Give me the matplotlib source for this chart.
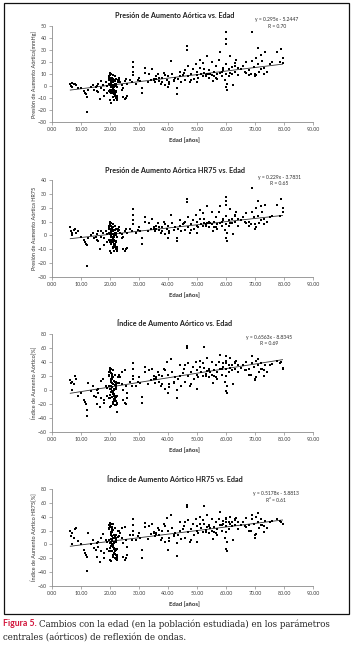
import matplotlib
matplotlib.use("Agg")
import matplotlib.pyplot as plt
from matplotlib.patches import Rectangle

plt.rcParams['font.family'] = ['Lato', 'DejaVu Sans']

# ---------------- data (shared subjects: age and four measurements) ----------------
edad = [
    6.3, 6.5, 6.8, 7.0, 7.5, 8.0, 8.3, 9.0,
    10.0, 11.2, 11.5, 11.8, 12.0, 12.2, 12.5, 13.5,
    14.0, 14.5, 15.0, 15.5, 15.5, 16.0, 16.0, 16.5, 17.0, 17.0, 17.5, 18.0, 18.0, 18.5, 19.0, 19.0,
    19.7, 20.3, 20.9, 21.5, 22.1, 22.6, 21.0,
    20.0, 20.6, 21.2, 21.8, 22.4, 19.9, 20.8,
    19.8, 20.4, 21.0, 21.6, 22.2, 20.2, 21.4,
    20.1, 20.7, 21.3, 21.9, 22.5, 20.5, 21.7,
    19.9, 20.5, 21.1, 21.7, 22.3, 20.9, 21.5,
    20.2, 20.8, 21.4, 22.0, 22.6, 20.0, 21.2,
    19.6, 20.2, 20.8, 21.4, 22.0, 21.8, 20.6,
    20.4, 21.0, 21.6, 22.2, 20.1, 20.7, 21.3,
    20.3, 20.9, 21.5, 22.1, 19.8, 21.1, 21.9,
    20.6, 21.2, 21.8, 19.7, 20.4, 21.0, 22.4,
    20.0, 20.8, 21.6, 22.2, 19.9, 21.4, 20.5,
    22.3,
    23.0, 23.0, 23.5, 24.0, 24.0, 24.5, 24.5, 25.0, 25.0, 25.5, 25.5, 26.0, 26.0, 27.0, 27.5,
    28.0, 28.0, 28.0, 28.0, 29.0, 29.5, 30.0, 30.5, 31.0, 31.0, 32.0, 32.0, 33.0, 33.5, 34.0, 34.5, 35.0,
    35.5, 36.0, 36.5, 37.0, 37.5, 38.0, 38.5, 39.0, 39.5, 40.0, 40.0, 40.5, 41.0, 41.5, 42.0,
    42.5, 43.0, 43.0, 43.5, 44.0, 44.5, 45.0, 35.0, 36.0, 37.0, 38.0, 39.0, 40.5, 42.0, 44.0,
    45.5, 46.0, 46.0, 46.5, 46.5, 47.0, 47.0, 47.5, 48.0, 48.5, 49.0, 49.5, 50.0, 50.0, 50.5,
    51.0, 51.0, 51.5, 52.0, 52.0, 52.5, 53.0, 53.5, 53.5, 54.0, 54.0, 54.5, 55.0, 55.0, 55.5,
    48.0, 50.0, 52.5, 53.0, 54.0,
    56.0, 56.0, 56.5, 57.0, 57.0, 57.5, 58.0, 58.0, 58.5, 59.0, 59.0, 59.5, 60.0, 60.0, 60.0,
    60.0, 60.0, 60.0, 60.5, 60.5, 61.0, 61.0, 61.5, 62.0, 62.0, 62.5, 63.0, 63.0, 63.5, 64.0,
    64.0, 56.5, 58.5, 61.5, 63.0,
    65.0, 66.0, 67.0, 67.0, 68.0, 68.0, 69.0, 69.0, 69.5, 70.0, 70.0, 70.5, 71.0, 71.0, 71.5,
    72.0, 72.5, 73.0, 73.0, 73.5, 74.0, 76.0, 77.5, 78.5, 79.0, 79.5, 79.5, 66.5, 68.5, 70.5,
    72.0, 75.0,
]

presion_aumento = [
    2, 0, -1, 2.5, 2, 2, 1, -2,
    -2, -4, -6, -7, -22, -9, -3, -1,
    1, -3, -1, 0, -4, -5, 2, -11, -2, 4, 1, -3, -8, 3, 0, -6,
    8, 3, -2, -6, 0, 5, -9,
    10, 6, 1, -4, -8, -12, 3,
    7, 2, -3, -7, -10, 4, -1,
    11, 5, 0, -5, -9, -14, 2,
    9, 4, -1, -6, -11, 6, -3,
    7, 1, -4, -8, 3, 9, -2,
    5, 0, -5, -7, 2, 8, -3,
    6, -2, 4, 1, -5, 7, -7,
    -1, 3, 5, -4, 2, -6, 0,
    1, -9, 4, -4, -6, 9, -1,
    -3, 5, -8, 6, 1, -12, 10,
    -12,
    5, 7, 3, 1, -3, -2, -9, 4, -11, 6, -10, 2, -8, 5, 3,
    20, 16, 12, 9, 2, 5, 7, 4, -6, -2, 15, 11, 3, 10, 5, 14, 6,
    3, 8, 10, 4, 2, 7, 11, 1, 5, 8, -1, 3, 21, 10, 4,
    7, -7, -2, 6, 12, 3, 9, 5, 6, 7, 3, 9, 2, 5, 8,
    11, 5, 13, 33, 30, 8, 17, 3, 10, 14, 6, 18, 9, 12, 7,
    22, 15, 10, 8, 19, 11, 9, 25, 10, 7, 13, 10, 20, 9, 4,
    5, 3, 14, 8, 10,
    12, 8, 17, 10, 6, 22, 11, 28, 8, 13, 15, 5, 45, 39, 35,
    18, 10, -1, -3, 2, 14, 8, 25, 16, 10, 1, 12, 19, 22, 9,
    15, 7, 12, 11, 17,
    14, 17, 11, 20, 13, 9, 45, 21, 16, 10, 8, 23, 32, 18, 12,
    26, 21, 15, 10, 28, 12, 20, 28, 20, 31, 23, 19, 12, 10, 9,
    14, 18,
]

presion_aumento_hr75 = [
    6, 3, 0, 2, 4, 5, 2, 3,
    -1, -3, -5, -6, -22, -7, -2, 0,
    2, -2, -1, 1, -3, -4, 3, -10, -1, 3, 2, -2, -7, 3, 1, -5,
    7, 3, -2, -6, 0, 5, -9,
    9, 5, 1, -4, -8, -11, 3,
    6, 2, -3, -7, -10, 4, -1,
    10, 4, 0, -5, -9, -13, 2,
    8, 4, -1, -6, -10, 6, -3,
    7, 1, -4, -8, 3, 8, -2,
    5, 0, -5, -7, 2, 7, -3,
    5, -2, 4, 1, -5, 6, -6,
    -1, 3, 4, -4, 2, -5, 0,
    1, -8, 4, -3, -6, 8, -1,
    -3, 4, -8, 5, 1, -11, 9,
    -11,
    4, 6, 2, 1, -2, -1, -10, 3, -11, 5, -10, 2, -9, 5, 3,
    19, 15, 11, 8, 2, 4, 6, 3, -6, -2, 13, 10, 3, 9, 5, 12, 6,
    3, 7, 9, 4, 2, 6, 10, 1, 5, 7, -2, 3, 15, 9, 4,
    6, -4, -2, 5, 11, 3, 8, 5, 5, 6, 3, 8, 2, 4, 7,
    9, 4, 10, 26, 24, 6, 13, 2, 8, 11, 5, 15, 7, 10, 6,
    18, 12, 8, 7, 16, 9, 8, 21, 9, 6, 10, 9, 17, 8, 3,
    4, 2, 12, 7, 9,
    10, 6, 13, 8, 5, 17, 9, 21, 7, 11, 12, 4, 28, 25, 22,
    14, 8, -2, -4, 2, 11, 7, 19, 12, 9, 1, 10, 15, 17, 7,
    12, 6, 10, 9, 14,
    11, 13, 9, 16, 10, 7, 34, 17, 13, 8, 5, 20, 25, 14, 9,
    21, 17, 12, 8, 22, 10, 14, 22, 14, 26, 20, 17, 10, 8, 6,
    11, 13,
]

indice_aumento = [
    14, 10, 0, 12, 8, 20, 15, -8,
    -4, -14, -17, -20, -37, -28, 10, -2,
    5, -8, -10, 0, -20, -5, 2, -25, 13, -12, 15, -15, -18, 5, 3, -8,
    25, 12, -3, -15, 5, 18, -20,
    31, 20, 8, -8, -18, -24, 10,
    22, 6, -5, -14, -22, 15, 0,
    28, 16, 2, -10, -19, -23, 7,
    26, 13, -2, -12, -20, 19, -6,
    24, 4, -8, -16, 10, 27, -4,
    20, 2, -10, -13, 8, 22, -1,
    14, -6, 11, 3, -11, 17, -16,
    -3, 9, 13, -9, 6, -17, 1,
    4, -18, 21, -12, 16, 29, -8,
    -7, 23, -21, 12, 1, -15, 30,
    -31,
    10, 22, 18, 25, 8, 0, -14, 28, -19, 5, -20, -5, -12, 12, 5,
    38, 30, 20, 15, 5, 12, 18, 10, -18, -10, 33, 25, 8, 28, 14, 30, 15,
    10, 18, 25, 12, 5, 20, 30, 2, 40, 22, -5, 8, 44, 25, 10,
    18, -12, 0, 15, 35, 6, 24, 20, 16, 22, 8, 28, 4, 12, 20,
    30, 12, 35, 63, 60, 20, 38, 5, 25, 33, 15, 40, 22, 28, 18,
    42, 33, 25, 20, 38, 61, 23, 45, 27, 18, 30, 25, 40, 22, 10,
    8, 2, 32, 20, 28,
    28, 20, 35, 25, 15, 40, 30, 50, 22, 33, 38, 12, 48, 42, 38,
    30, 20, -2, -5, 5, 35, 25, 45, 36, 28, 8, 30, 40, 42, 25,
    35, 18, 30, 32, 38,
    32, 36, 28, 40, 30, 22, 49, 38, 33, 16, 14, 42, 44, 35, 26,
    38, 30, 28, 20, 36, 26, 37, 42, 38, 40, 32, 30, 28, 22, 18,
    30, 35,
]

indice_aumento_hr75 = [
    20, 12, 0, 16, 9, 22, 23, 5,
    0, -8, -12, -15, -38, -18, 16, 1,
    6, -5, -8, 2, -18, -3, 4, -26, 10, -10, 15, -12, -20, 6, 4, -6,
    28, 15, 0, -12, 6, 20, -18,
    31, 22, 10, -6, -15, -22, 12,
    24, 8, -3, -14, -21, 17, 2,
    30, 18, 4, -8, -17, -24, 9,
    27, 14, 0, -10, -19, 21, -5,
    25, 6, -6, -15, 11, 26, -2,
    22, 3, -9, -12, 9, 24, 1,
    16, -4, 12, 5, -10, 19, -14,
    -2, 10, 14, -7, 7, -16, 3,
    5, -15, 23, -10, 18, 30, -6,
    -5, 25, -20, 14, 2, -13, 29,
    -23,
    12, 20, 17, 24, 10, 2, -18, 25, -22, 6, -20, -3, -15, 14, 6,
    37, 28, 20, 14, 6, 12, 17, 9, -19, -8, 31, 25, 8, 27, 15, 30, 16,
    12, 17, 24, 14, 6, 19, 29, 4, 38, 20, -8, 10, 43, 24, 12,
    17, -17, 2, 14, 33, 8, 22, 18, 15, 21, 9, 26, 5, 13, 19,
    27, 10, 32, 57, 54, 18, 35, 4, 22, 30, 13, 37, 20, 26, 16,
    40, 30, 23, 18, 35, 56, 21, 42, 25, 16, 28, 23, 36, 20, 8,
    6, 4, 30, 18, 26,
    25, 18, 32, 22, 14, 37, 28, 47, 20, 30, 34, 10, 38, 36, 33,
    27, 18, -6, -10, 4, 32, 22, 40, 33, 26, 7, 28, 36, 38, 22,
    32, 16, 28, 30, 35,
    28, 33, 25, 38, 28, 20, 42, 36, 30, 13, 9, 40, 45, 33, 24,
    36, 28, 26, 18, 34, 24, 34, 36, 34, 33, 30, 29, 26, 20, 15,
    28, 32,
]

titulos = [
    "Presión de Aumento Aórtica vs. Edad",
    "Presión de Aumento Aórtica HR75 vs. Edad",
    "Índice de Aumento Aórtico vs. Edad",
    "Índice de Aumento Aórtico HR75 vs. Edad",
]
ylabels = [
    "Presión de Aumento Aórtica[mmHg]",
    "Presión de Aumento Aórtica HR75",
    "Índice de Aumento Aórtico[%]",
    "Índice de Aumento Aórtico HR75[%]",
]
pendientes = [0.295, 0.229, 0.6563, 0.5178]
intercepts = [-5.2447, -3.7831, -8.8345, -5.8813]
ecuaciones = ["y = 0.295x - 5.2447", "y = 0.229x - 3.7831",
              "y = 0.6563x - 8.8345", "y = 0.5178x - 5.8813"]
coef_r = ["R = 0.70", "R = 0.65", "R = 0.69", "R² = 0.61"]
ylims = [(-30, 50), (-30, 40), (-60, 80), (-60, 80)]
ysteps = [10, 10, 20, 20]
xticks = [0, 10, 20, 30, 40, 50, 60, 70, 80, 90]
xlabel = "Edad [años]"
trend_x = [6.3, 79.5]
series = [presion_aumento, presion_aumento_hr75, indice_aumento, indice_aumento_hr75]

# ---------------- layout ----------------
W, H = 353, 652
fig = plt.figure(figsize=(W / 100, H / 100), dpi=100)

boxes = [(26, 122), (180, 277), (334, 432), (489, 586)]
eq_pos = [(277, 19.5, 26.5), (279, 178, 184), (269, 338, 344), (276, 494, 500)]
xl, xr = 52, 313

for i in range(4):
    top, bot = boxes[i]
    ax = fig.add_axes([xl / W, 1 - bot / H, (xr - xl) / W, (bot - top) / H])
    ax.set_xlim(0, 90)
    ax.set_ylim(*ylims[i])
    ax.scatter(edad, series[i], s=4.0, marker='s', color='black', linewidths=0, zorder=3)
    ty = [pendientes[i] * x + intercepts[i] for x in trend_x]
    ax.plot(trend_x, ty, color='#303030', lw=0.6, zorder=2)
    for s in ['top', 'right']:
        ax.spines[s].set_visible(False)
    for s in ['left', 'bottom']:
        ax.spines[s].set_color('#8c8c8c')
        ax.spines[s].set_linewidth(0.6)
    ax.set_xticks(xticks)
    ax.set_xticklabels([f"{v:.2f}" for v in xticks])
    lo, hi = ylims[i]
    ax.set_yticks(list(range(lo, hi + 1, ysteps[i])))
    ax.tick_params(axis='both', length=2.2, width=0.5, color='#8c8c8c',
                   labelsize=3.8, labelcolor='#404040', pad=1.5)
    ax.set_facecolor('none')

    fig.text(175 / W, 1 - (top - 10) / H, titulos[i], ha='center', va='center',
             fontsize=5.2, fontweight='bold', color='#202020')
    fig.text(184 / W, 1 - (bot + 18) / H, xlabel, ha='center', va='center',
             fontsize=4.3, fontweight='bold', color='#303030')
    fig.text(34 / W, 1 - ((top + bot) / 2) / H, ylabels[i], ha='center', va='center',
             rotation=90, fontsize=4.0, color='#303030')
    ex, ey1, ey2 = eq_pos[i]
    fig.text(ex / W, 1 - ey1 / H, ecuaciones[i], ha='center', va='center',
             fontsize=3.6, color='#303030')
    fig.text(ex / W, 1 - ey2 / H, coef_r[i], ha='center', va='center',
             fontsize=3.6, color='#303030')

# outer frame
fig.patches.append(Rectangle((3.5 / W, 1 - 614 / H), 345.5 / W, 611 / H,
                             transform=fig.transFigure, fill=False,
                             edgecolor='#111111', linewidth=0.9))

# caption
fig.text(3 / W, 1 - 624 / H, "Figura 5.", ha='left', va='center',
         fontsize=6.3, fontweight='bold', color='#d2143a')
fig.text(39 / W, 1 - 624 / H,
         "Cambios con la edad (en la población estudiada) en los parámetros",
         ha='left', va='center', fontsize=6.2, color='#222222',
         family=['DejaVu Serif'])
fig.text(3 / W, 1 - 637 / H, "centrales (aórticos) de reflexión de ondas.",
         ha='left', va='center', fontsize=6.2, color='#222222',
         family=['DejaVu Serif'])

fig.savefig("out.png", dpi=100)
